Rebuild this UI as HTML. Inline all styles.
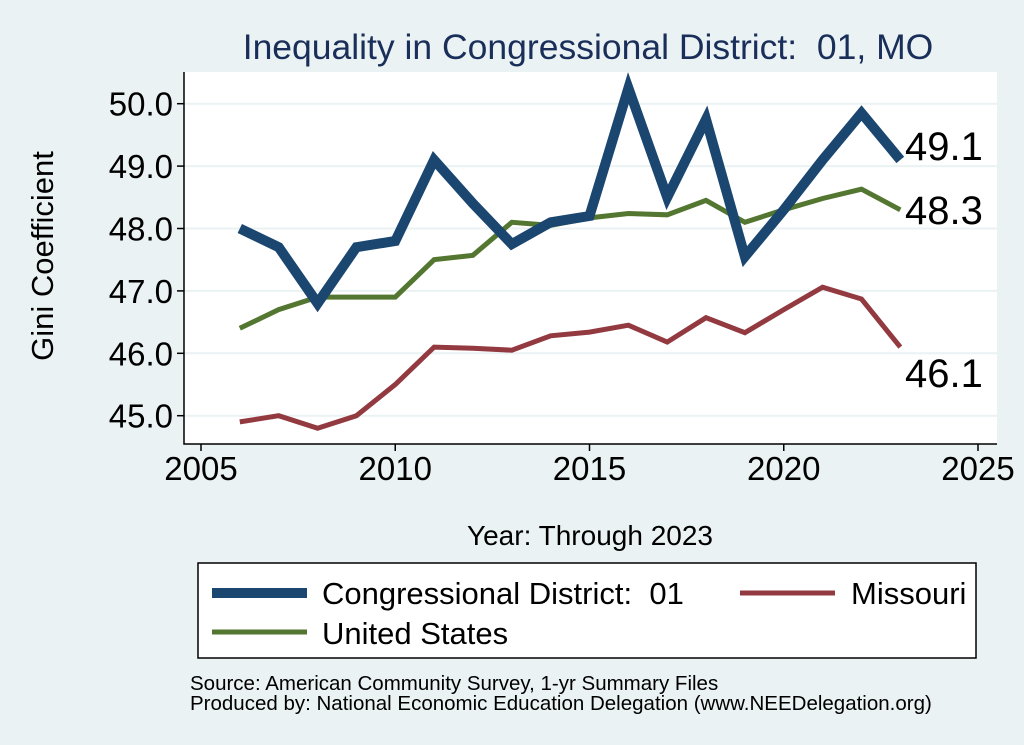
<!DOCTYPE html>
<html><head><meta charset="utf-8"><style>
body{margin:0;background:#eaf2f3;}
svg{display:block;font-family:"Liberation Sans",sans-serif;}
text{white-space:pre;}
</style></head><body>
<svg width="1024" height="745" viewBox="0 0 1024 745" xml:space="preserve">
<rect x="0" y="0" width="1024" height="745" fill="#eaf2f3"/>
<text x="588" y="59" font-size="35.5" fill="#1a2e5a" text-anchor="middle">Inequality in Congressional District:  01, MO</text>
<rect x="184" y="72" width="813" height="372" fill="#fff"/>
<g id="grid"></g>
<g id="axes"></g>
<g id="series"></g>
<text x="53" y="256" font-size="31" text-anchor="middle" transform="rotate(-90 53 256)">Gini Coefficient</text>
<text x="590" y="545" font-size="28" text-anchor="middle">Year: Through 2023</text>
<g>
<rect x="198" y="563" width="778" height="95" fill="#fff" stroke="#000" stroke-width="1.5"/>
<line x1="212" y1="593" x2="307" y2="593" stroke="#1a4670" stroke-width="10"/>
<text x="322" y="604" font-size="31">Congressional District:  01</text>
<line x1="740" y1="593" x2="835" y2="593" stroke="#923a40" stroke-width="5"/>
<text x="851" y="604" font-size="31">Missouri</text>
<line x1="212" y1="632" x2="307" y2="632" stroke="#537630" stroke-width="5"/>
<text x="322" y="644" font-size="31">United States</text>
</g>
<text x="190" y="690" font-size="20.5">Source: American Community Survey, 1-yr Summary Files</text>
<text x="190" y="710" font-size="20.5">Produced by: National Economic Education Delegation (www.NEEDelegation.org)</text>
</svg>
<script>
const years=[2006,2007,2008,2009,2010,2011,2012,2013,2014,2015,2016,2017,2018,2019,2020,2021,2022,2023];
const district=[48.0,47.7,46.8,47.7,47.8,49.1,48.4,47.75,48.1,48.2,50.25,48.5,49.75,47.55,48.3,49.1,49.85,49.1];
const unitedStates=[46.4,46.7,46.9,46.9,46.9,47.5,47.57,48.1,48.05,48.17,48.24,48.22,48.45,48.1,48.3,48.48,48.63,48.3];
const missouri=[44.9,45.0,44.8,45.0,45.5,46.1,46.08,46.05,46.28,46.34,46.45,46.18,46.57,46.33,46.7,47.06,46.87,46.1];
const yTicks=[45,46,47,48,49,50];
const xTicks=[2005,2010,2015,2020,2025];
const NS='http://www.w3.org/2000/svg';
const xs=v=>201+(v-2005)*38.85;
const ys=v=>415.7-(v-45)*62.4;
function mk(tag,attrs,parent){const e=document.createElementNS(NS,tag);for(const k in attrs)e.setAttribute(k,attrs[k]);document.getElementById(parent).appendChild(e);return e;}
yTicks.forEach(t=>{
 let g=mk('line',{x1:184,x2:997,y1:ys(t),y2:ys(t),stroke:'#eaf2f3','stroke-width':2},'grid');
 
 
 let k=mk('line',{x1:177,x2:184,y1:ys(t),y2:ys(t),stroke:'#000','stroke-width':1.5},'axes');
 
 
 let l=mk('text',{x:173,y:ys(t)+12,'font-size':33,'text-anchor':'end'},'axes');l.textContent=t.toFixed(1);
 
 
});
xTicks.forEach(t=>{
 let k=mk('line',{x1:xs(t),x2:xs(t),y1:444,y2:451,stroke:'#000','stroke-width':1.5},'axes');
 
 
 let l=mk('text',{x:xs(t),y:480,'font-size':33,'text-anchor':'middle'},'axes');l.textContent=t;
 
 
});
let ax=mk('path',{d:'M184 72 V444 H997',fill:'none',stroke:'#000','stroke-width':1.5},'axes');


function line(vals,color,w,name,labelY){
 const d=vals.map((v,i)=>(i?'L':'M')+xs(years[i]).toFixed(1)+' '+ys(v).toFixed(1)).join(' ');
 let p=mk('path',{d:d,fill:'none',stroke:color,'stroke-width':w,'stroke-linejoin':'miter'},'series');
 
 
 const last=vals[vals.length-1];
 let t=mk('text',{x:905,y:ys(last)+labelY,'font-size':40},'series');t.textContent=last.toFixed(1);
 
 
}
line(missouri,'#923a40',5,'missouri',40);
line(unitedStates,'#537630',5,'united-states',14);
line(district,'#1a4670',10,'district',-0);
</script>
</body></html>
